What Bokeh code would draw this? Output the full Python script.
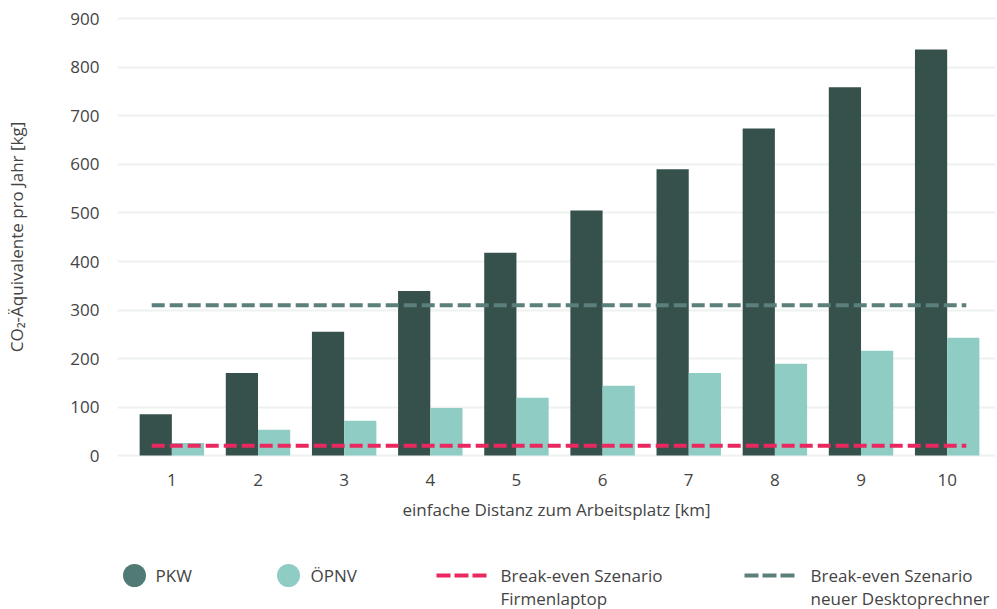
from bokeh.plotting import figure
from bokeh.models import Range1d, FixedTicker, ColumnDataSource
from bokeh.transform import dodge
from bokeh.layouts import column
from bokeh.core.properties import value
from bokeh.embed import file_html
from bokeh.resources import INLINE

# ---- data ----
distances = [1, 2, 3, 4, 5, 6, 7, 8, 9, 10]
pkw = [85, 170, 255, 339, 418, 505, 590, 674, 759, 837]
oepnv = [26, 53, 72, 98, 119, 144, 170, 189, 216, 243]
breakeven_laptop = 20
breakeven_desktop = 310
y_ticks = [0, 100, 200, 300, 400, 500, 600, 700, 800, 900]
series_names = ["PKW", "ÖPNV"]
line_names = [["Break-even Szenario", "Firmenlaptop"],
              ["Break-even Szenario", "neuer Desktoprechner"]]

# ---- styles ----
FONT = "Open Sans"
TEXT = "#444444"
C_PKW = "#36504c"
C_PKW_LEG = "#527a74"
C_OEPNV = "#8fcdc4"
C_PINK = "#e8285f"
C_GREY = "#5b7f7a"

src = ColumnDataSource(dict(x=distances, pkw=pkw, oepnv=oepnv))

p = figure(width=997, height=535, x_range=Range1d(0.369, 10.561), y_range=Range1d(-4, 905),
           output_backend="svg", toolbar_location=None,
           min_border_left=117, min_border_right=2, min_border_top=16, min_border_bottom=78)
p.outline_line_color = None
p.background_fill_color = "white"
p.border_fill_color = "white"
p.xgrid.grid_line_color = None
p.ygrid.grid_line_color = "#eef2f1"
p.ygrid.grid_line_width = 2

bw = 0.374
p.vbar(x=dodge("x", -bw / 2, range=p.x_range), top="pkw", width=bw, source=src,
       fill_color=C_PKW, line_color=None)
p.vbar(x=dodge("x", bw / 2, range=p.x_range), top="oepnv", width=bw, source=src,
       fill_color=C_OEPNV, line_color=None)

x0 = distances[0] - 0.234
x1 = distances[-1] + 0.222
p.line([x0, x1], [breakeven_desktop, breakeven_desktop], line_color=C_GREY,
       line_width=4, line_dash="13 5")
p.line([x0, x1], [breakeven_laptop, breakeven_laptop], line_color=C_PINK,
       line_width=4, line_dash="13 5")

p.xaxis.ticker = FixedTicker(ticks=distances)
p.yaxis.ticker = FixedTicker(ticks=y_ticks)
for ax in (p.xaxis, p.yaxis):
    ax.axis_line_color = None
    ax.major_tick_line_color = None
    ax.minor_tick_line_color = None
    ax.major_label_text_font = FONT
    ax.major_label_text_font_size = "17px"
    ax.major_label_text_color = TEXT
    ax.axis_label_text_font = FONT
    ax.axis_label_text_font_size = "17px"
    ax.axis_label_text_color = TEXT
    ax.axis_label_text_font_style = "normal"
p.xaxis.major_label_standoff = 10
p.yaxis.major_label_standoff = 12
p.xaxis.axis_label = "einfache Distanz zum Arbeitsplatz [km]"
p.xaxis.axis_label_standoff = 9
p.yaxis.axis_label = "CO₂-Äquivalente pro Jahr [kg]"
p.yaxis.axis_label_standoff = 39

# ---- legend figure (frame aligned with the main plot: data x == page pixel x) ----
leg = figure(width=997, height=74, x_range=Range1d(117, 995), y_range=Range1d(0, 74),
             output_backend="svg", toolbar_location=None,
             min_border_left=117, min_border_right=2, min_border_top=0, min_border_bottom=0,
             x_axis_type=None, y_axis_type=None)
leg.outline_line_color = None
leg.grid.visible = False

ly1, ly2 = 34, 11
leg.scatter([134], [ly1], size=23, fill_color=C_PKW_LEG, line_color=None)
leg.scatter([288], [ly1], size=23, fill_color=C_OEPNV, line_color=None)
leg.line([436, 486], [ly1, ly1], line_color=C_PINK, line_width=4, line_dash="14 4")
leg.line([744, 795], [ly1, ly1], line_color=C_GREY, line_width=4, line_dash="14 4")

tx = [155, 310, 500, 500, 810, 810]
ty = [ly1, ly1, ly1, ly2, ly1, ly2]
tt = [series_names[0], series_names[1], line_names[0][0], line_names[0][1],
      line_names[1][0], line_names[1][1]]
leg.text(tx, ty, text=tt, text_font=value(FONT), text_font_size="17px",
         text_color=TEXT, text_baseline="middle", text_align="left")

layout = column(p, leg, spacing=0)
open("out.html", "w").write(file_html(layout, INLINE))
